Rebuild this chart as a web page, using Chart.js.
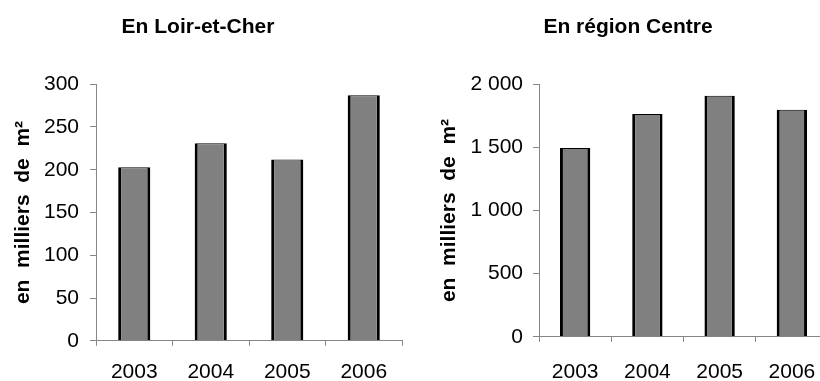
<!DOCTYPE html>
<html>
<head>
<meta charset="utf-8">
<script src="https://cdn.jsdelivr.net/npm/chart.js@4"></script>
<style>
  html, body { margin: 0; padding: 0; background: #fff; overflow: hidden; width: 820px; height: 381px; }
  .box { position: absolute; top: 0; width: 430px; height: 420px; }
  #wrapL { left: -20px; }
  #wrapR { left: 410px; }
</style>
</head>
<body>
<div class="box" id="wrapL"><canvas id="left" width="430" height="420"></canvas></div>
<div class="box" id="wrapR"><canvas id="right" width="430" height="420"></canvas></div>
<script>
const years = ['2003', '2004', '2005', '2006'];
const loirEtCher = [203, 231, 212, 287];
const regionCentre = [1495, 1765, 1908, 1797];
const titleLeft = 'En Loir-et-Cher';
const titleRight = 'En région Centre';
const yTitle = 'en  milliers  de  m²';

const FONT = "'Liberation Sans', Arial, sans-serif";
const AXIS = '#868686';

function fmt(v) {
  return String(v).replace(/\B(?=(\d{3})+(?!\d))/g, ' ');
}

function makeChart(id, title, data, max, step, g) {
  return new Chart(document.getElementById(id), {
    type: 'bar',
    data: {
      labels: years,
      datasets: [{
        data: data,
        backgroundColor: '#808080',
        borderColor: '#000',
        borderWidth: { top: 1, left: 3, right: 3, bottom: 0 },
        borderSkipped: false,
        categoryPercentage: 1,
        barPercentage: 0.42
      }]
    },
    options: {
      responsive: false,
      animation: false,
      devicePixelRatio: 1,
      layout: { padding: { left: g.padL, right: g.padR, top: 0, bottom: g.padB } },
      plugins: {
        legend: { display: false },
        tooltip: { enabled: false },
        title: {
          display: true,
          text: title,
          color: '#000',
          font: { family: FONT, size: 21, weight: 'bold', lineHeight: 1.2 },
          padding: { top: 15, bottom: 44 }
        }
      },
      scales: {
        x: {
          grid: { drawOnChartArea: false, drawTicks: true, tickLength: 5, color: AXIS, offset: true },
          border: { display: true, color: AXIS, width: 1 },
          ticks: { color: '#000', font: { family: FONT, size: 21 }, padding: g.xPad, maxRotation: 0, autoSkip: false }
        },
        y: {
          min: 0,
          max: max,
          afterFit: (s) => { s.width = g.yW; },
          grid: { drawOnChartArea: false, drawTicks: true, tickLength: 6, color: AXIS },
          border: { display: true, color: AXIS, width: 1 },
          ticks: {
            stepSize: step,
            color: '#000',
            font: { family: FONT, size: 21 },
            padding: g.yPad,
            callback: (v) => fmt(v)
          },
          title: {
            display: true,
            text: yTitle,
            color: '#000',
            font: { family: FONT, size: 21, weight: 'bold', lineHeight: 1.2 },
            padding: { top: g.tPad, bottom: 0 }
          }
        }
      }
    }
  });
}

makeChart('left', titleLeft, loirEtCher, 300, 50,
  { padL: 14, padR: 8, padB: 21, yW: 102, xPad: 14, yPad: 11, tPad: 17 });
makeChart('right', titleRight, regionCentre, 2000, 500,
  { padL: 18, padR: 12, padB: 17, yW: 111, xPad: 18, yPad: 10, tPad: 9 });
</script>
</body>
</html>
